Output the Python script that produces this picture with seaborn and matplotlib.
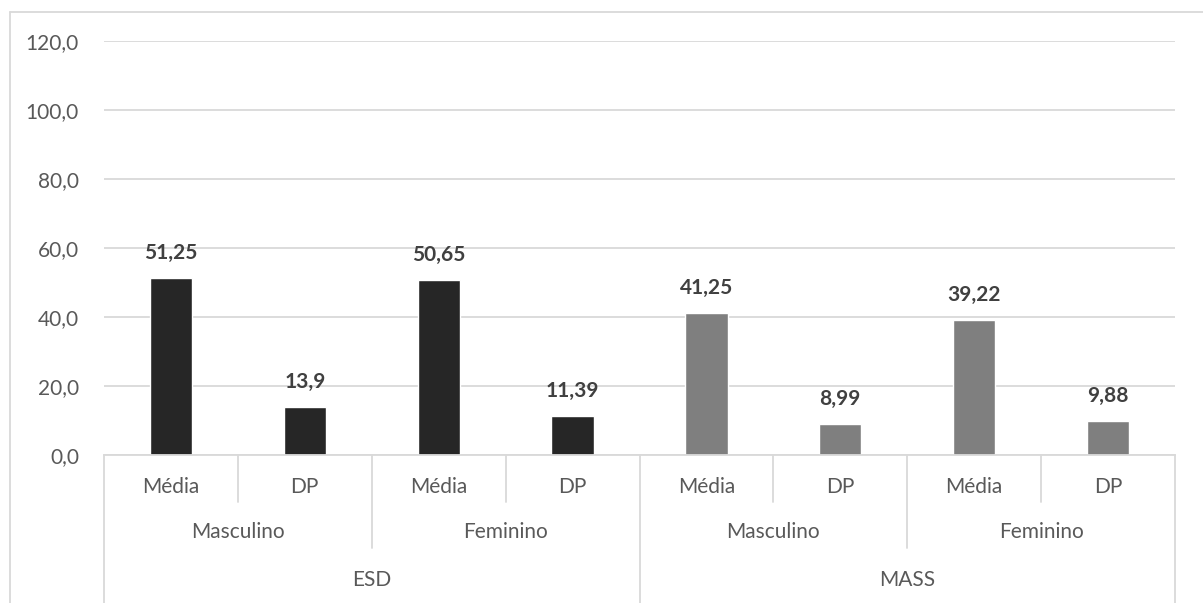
import matplotlib
matplotlib.use("Agg")
import matplotlib.pyplot as plt
import matplotlib.transforms as mtransforms
from matplotlib.lines import Line2D
import seaborn as sns
import pandas as pd

# Data
instruments = ["ESD", "ESD", "ESD", "ESD", "MASS", "MASS", "MASS", "MASS"]
genders = ["Masculino", "Masculino", "Feminino", "Feminino",
           "Masculino", "Masculino", "Feminino", "Feminino"]
stats = ["Média", "DP", "Média", "DP", "Média", "DP", "Média", "DP"]
values = [51.25, 13.9, 50.65, 11.39, 41.25, 8.99, 39.22, 9.88]
value_labels = ["51,25", "13,9", "50,65", "11,39", "41,25", "8,99", "39,22", "9,88"]
y_ticks = [0, 20, 40, 60, 80, 100, 120]

palette = {"ESD": "#262626", "MASS": "#7f7f7f"}

df = pd.DataFrame({
    "pos": [f"{i}" for i in range(len(values))],
    "instrumento": instruments,
    "genero": genders,
    "estatistica": stats,
    "valor": values,
})

sns.set_theme(style="white")
plt.rcParams["font.family"] = ["Lato", "DejaVu Sans"]

FS = 15

W, H = 1203, 603
fig = plt.figure(figsize=(W / 100, H / 100), dpi=100)
ax = fig.add_axes([104 / W, 1 - 455 / H, (1175 - 104) / W, (455 - 41) / H])

sns.barplot(data=df, x="pos", y="valor", hue="instrumento", palette=palette,
            dodge=False, width=0.315, legend=False, ax=ax, saturation=1)

ax.set_xlim(-0.5, len(values) - 0.5)
ax.set_ylim(0, 120)
ax.set_yticks(y_ticks)
ax.set_yticklabels([f"{t:.1f}".replace(".", ",") for t in y_ticks])
ax.tick_params(axis="y", length=0, pad=18, labelsize=FS, labelcolor="#595959")
ax.set_xticks([])
ax.set_xlabel("")
ax.set_ylabel("")
ax.yaxis.grid(True, color="#d9d9d9", linewidth=1.3)
ax.set_axisbelow(True)
for side in ["top", "right", "left"]:
    ax.spines[side].set_visible(False)
ax.spines["bottom"].set_color("#d9d9d9")
ax.spines["bottom"].set_linewidth(1.3)

# Value labels above each bar
for i, (v, lab) in enumerate(zip(values, value_labels)):
    ax.annotate(lab, (i, v), xytext=(0, 18), textcoords="offset points",
                ha="center", va="center", fontsize=FS, fontweight="bold",
                color="#404040")

# Multi-level category axis
trans = mtransforms.blended_transform_factory(ax.transData, ax.transAxes)
ph = 455 - 41  # axes height in px


def yf(py):
    return (455 - py) / ph


sep_color = "#d9d9d9"


def vline(x, py_end):
    ax.add_line(Line2D([x, x], [0, yf(py_end)], transform=trans, color=sep_color,
                       linewidth=1.3, clip_on=False))


n = len(values)
# innermost: statistic labels
for i, s in enumerate(stats):
    ax.text(i, yf(487), s, transform=trans, ha="center", va="center",
            fontsize=FS, color="#595959")
for i in range(1, n):
    b = i - 0.5
    if i % 4 == 0:
        vline(b, 610)
    elif i % 2 == 0:
        vline(b, 548)
    else:
        vline(b, 502)
vline(-0.5, 610)
vline(n - 0.5, 610)

# gender labels
for g in range(0, n, 2):
    ax.text(g + 0.5, yf(532), genders[g], transform=trans, ha="center",
            va="center", fontsize=FS, color="#595959")
# instrument labels
for g in range(0, n, 4):
    ax.text(g + 1.5, yf(580), instruments[g], transform=trans, ha="center",
            va="center", fontsize=FS, color="#595959")

# Chart border (top and left edges)
fig.add_artist(Line2D([10 / W, 1], [1 - 12 / H, 1 - 12 / H], color="#d9d9d9",
                      linewidth=1.3, transform=fig.transFigure))
fig.add_artist(Line2D([10 / W, 10 / W], [0, 1 - 12 / H], color="#d9d9d9",
                      linewidth=1.3, transform=fig.transFigure))

fig.savefig("out.png", dpi=100, facecolor="white")
